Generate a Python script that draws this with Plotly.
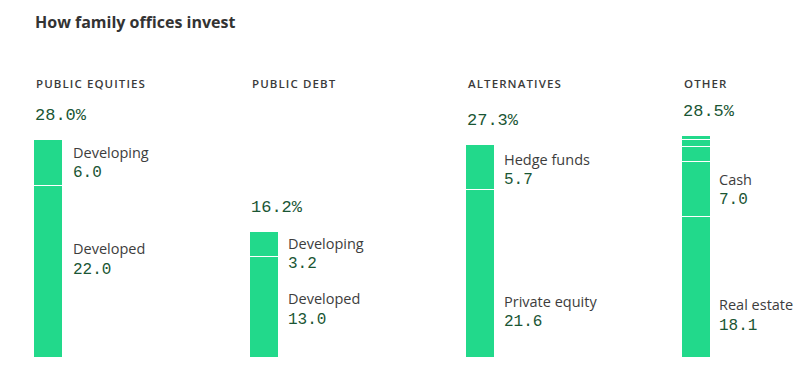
import plotly.graph_objects as go

categories = ["PUBLIC EQUITIES", "PUBLIC DEBT", "ALTERNATIVES", "OTHER"]
totals = [28.0, 16.2, 27.3, 28.5]
# stacked segments, bottom to top
seg_bottom = [22.0, 13.0, 21.6, 18.1]
seg_second = [6.0, 3.2, 5.7, 7.0]
seg_third = [None, None, None, 1.9]
seg_fourth = [None, None, None, 1.0]
seg_fifth = [None, None, None, 0.5]
bottom_names = ["Developed", "Developed", "Private equity", "Real estate"]
second_names = ["Developing", "Developing", "Hedge funds", "Cash"]

# label anchor heights (data units) for segment names
bottom_label_y = [14.0, 7.6, 7.3, 6.8]
second_label_y = [26.4, 14.7, 25.5, 22.9]

GREEN = "#22d98b"
SANS = "Open Sans, Lato, sans-serif"
MONO = "Liberation Mono, DejaVu Sans Mono, monospace"
TXT = "#3d3d3d"
VAL = "#1a5634"

x_idx = list(range(len(categories)))
BW = 0.136
LABEL_DX = [0.104, 0.100, 0.100, 0.094]

fig = go.Figure()
for seg in [seg_bottom, seg_second, seg_third, seg_fourth, seg_fifth]:
    fig.add_trace(go.Bar(x=x_idx, y=seg, width=BW, marker=dict(color=GREEN, line=dict(color="white", width=1.5)),
                         hoverinfo="skip", showlegend=False))

ann = []
UNIT_PX = 7.8
BOTTOM = 358
for i, c in enumerate(categories):
    ann.append(dict(x=i - BW / 2, y=(BOTTOM - 83) / UNIT_PX,
                    text=f"<span style='letter-spacing:1.1px'>{c}</span>", xanchor="left", yanchor="middle",
                    showarrow=False, font=dict(family=SANS, size=11.5, color="#3a3a3a", weight=600)))
    ann.append(dict(x=i - BW / 2 - 0.005, y=totals[i], yshift=24.5, text=f"{totals[i]:.1f}%", xanchor="left",
                    yanchor="middle", showarrow=False, font=dict(family=MONO, size=17, color=VAL)))
    for name, val, ly in [(bottom_names[i], seg_bottom[i], bottom_label_y[i]), (second_names[i], seg_second[i], second_label_y[i])]:
        ann.append(dict(x=i + LABEL_DX[i], y=ly, text=name, xanchor="left", yanchor="middle", showarrow=False,
                        font=dict(family=SANS, size=14.5, color=TXT)))
        ann.append(dict(x=i + LABEL_DX[i], y=ly, yshift=-21, text=f"{val:.1f}", xanchor="left", yanchor="middle",
                        showarrow=False, font=dict(family=MONO, size=16, color=VAL)))

fig.update_layout(
    width=811, height=372,
    margin=dict(l=0, r=0, t=0, b=372 - BOTTOM),
    barmode="stack",
    bargap=0,
    plot_bgcolor="white", paper_bgcolor="white",
    xaxis=dict(range=[-48.5 / 216, (811 - 48.5) / 216], visible=False, fixedrange=True),
    yaxis=dict(range=[0, BOTTOM / UNIT_PX], visible=False, fixedrange=True),
    title=dict(text="<b>How family offices invest</b>", xref="container", yref="container", x=35 / 811,
               y=1 - 22 / 372, xanchor="left", yanchor="middle",
               font=dict(family=SANS, size=16, color="#333333")),
    annotations=ann,
)

fig.write_html("out.html", config={"displayModeBar": False},
               post_script="document.body.style.margin='0';document.body.style.overflow='hidden';")
